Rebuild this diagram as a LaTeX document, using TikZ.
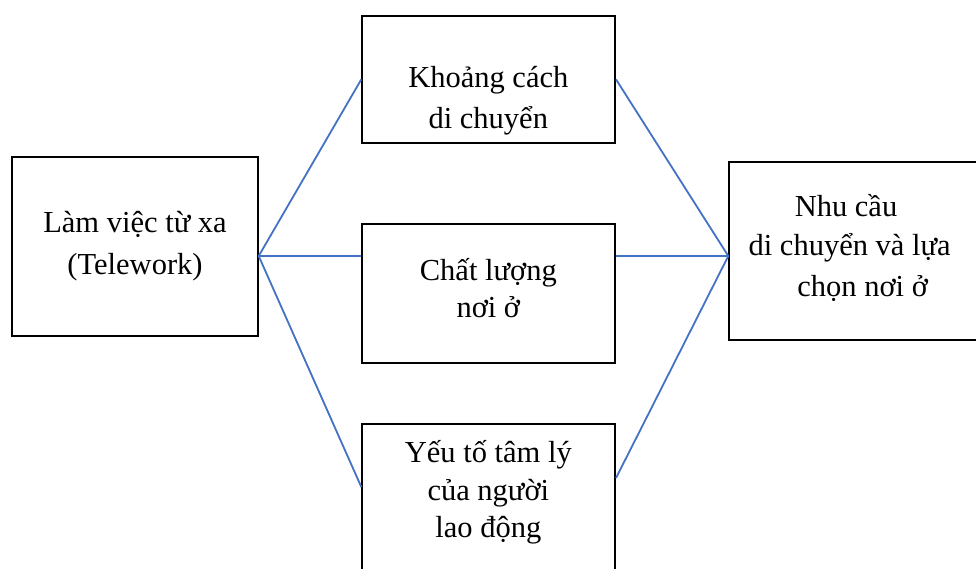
\documentclass[tikz,border=0pt]{standalone}
\usepackage{fontspec}
\setmainfont{Liberation Serif}
\usetikzlibrary{calc}
\definecolor{linkblue}{RGB}{68,114,196}
\tikzset{
  box/.style={draw=black, line width=2pt, inner sep=0pt, fill=none},
  txt/.style={anchor=base, inner sep=0pt, font=\fontsize{30.5pt}{36pt}\selectfont},
  link/.style={draw=linkblue, line width=1.8pt},
}
\begin{document}
\begin{tikzpicture}[x=1pt,y=-1pt]
\clip (0,0) rectangle (976,568);
\fill[white] (0,0) rectangle (976,568);

% boxes
\node[box, minimum width=246pt, minimum height=178.4pt] (L) at (134.7,246.5) {};
\node[box, minimum width=252.7pt, minimum height=126.7pt] (T) at (488.65,79.35) {};
\node[box, minimum width=252.7pt, minimum height=139pt] (M) at (488.65,293.8) {};
\node[box, minimum width=252.7pt, minimum height=156pt] (B) at (488.65,502) {};
\node[box, minimum width=255.7pt, minimum height=178.3pt] (R) at (857.15,250.85) {};

% labels
\node[txt] (L1) at (135,232.3) {Làm việc từ xa};
\node[txt] (L2) at (135,274) {(Telework)};
\node[txt] (T1) at (488.3,87.3) {Khoảng cách};
\node[txt] (T2) at (488.3,128.3) {di chuyển};
\node[txt] (M1) at (488.3,280.7) {Chất lượng};
\node[txt] (M2) at (488.3,317) {nơi ở};
\node[txt] (B1) at (488.3,462.7) {Yếu tố tâm lý};
\node[txt] (B2) at (488.3,500) {của người};
\node[txt] (B3) at (488.3,537) {lao động};
\node[txt] (R1) at (846,216) {Nhu cầu};
\node[txt] (R2) at (849.6,255) {di chuyển và lựa};
\node[txt] (R3) at (862.6,296) {chọn nơi ở};

% connectors
\coordinate (Lout) at ([yshift=-9.5pt]L.east);
\coordinate (Rin) at ([yshift=-5.15pt]R.west);
\draw[link] (Lout) -- (T.west);
\draw[link] (Lout) -- ([yshift=37.8pt]M.west);
\draw[link] (Lout) -- ([yshift=-64pt]B.north west);
\draw[link] (Rin) -- (T.east);
\draw[link] (Rin) -- ([yshift=37.8pt]M.east);
\draw[link] (Rin) -- ([yshift=-55pt]B.north east);
\end{tikzpicture}
\end{document}
